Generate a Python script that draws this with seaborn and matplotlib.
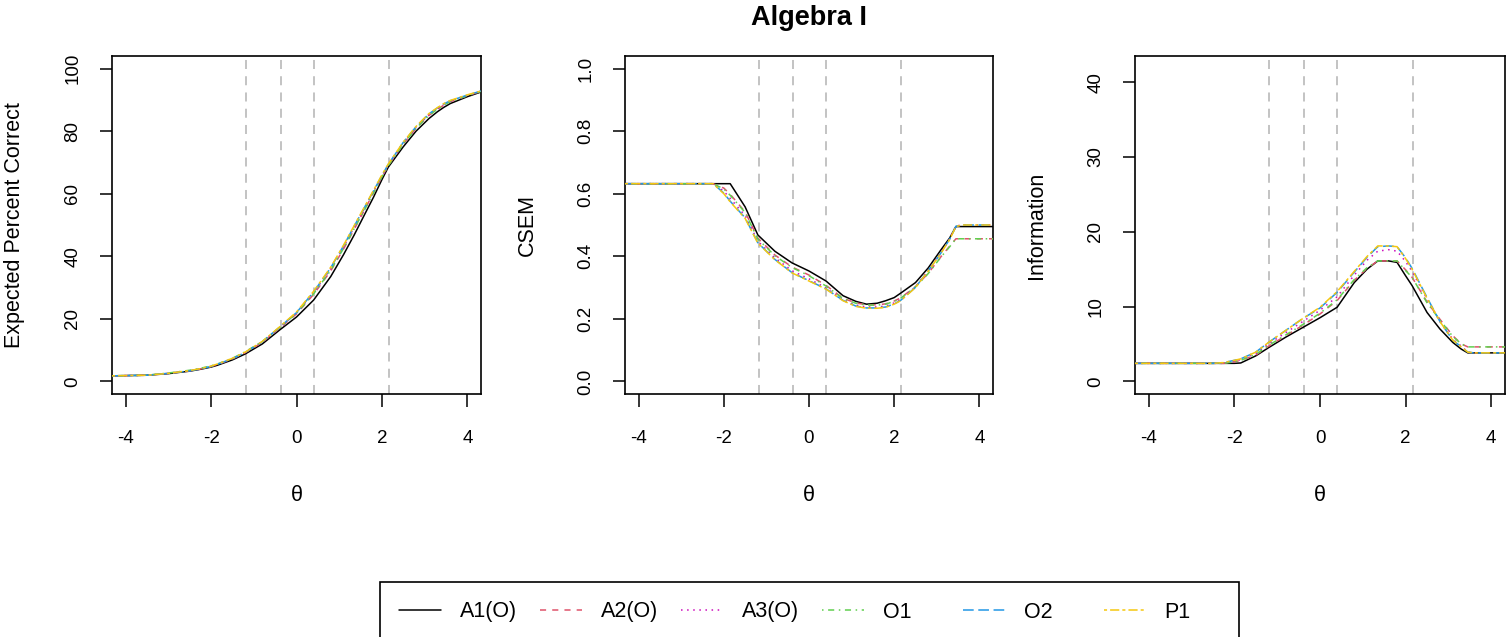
import numpy as np
import matplotlib
matplotlib.use("Agg")
import matplotlib.pyplot as plt
from matplotlib.patches import Rectangle
import seaborn as sns

# theta grid shared by all series
theta = [-4.32, -3.5, -3.0, -2.5, -2.25, -2.0, -1.85, -1.5, -1.2, -0.8, -0.4, 0.0, 0.4,
         0.8, 1.1, 1.35, 1.6, 1.8, 2.0, 2.15, 2.5, 2.8, 3.1, 3.3, 3.45, 3.6, 4.0, 4.32]

series = ["A1(O)", "A2(O)", "A3(O)", "O1", "O2", "P1"]
colors = ["#000000", "#DF536B", "#CD0BBC", "#61D04F", "#2297E6", "#F5C710"]
cut_scores = [-1.18, -0.37, 0.40, 2.16]

# expected percent correct
epc_a1 = [1.8, 2.0, 2.5, 3.3, 3.9, 4.6, 5.2, 6.9, 8.8, 12.0, 16.4, 20.6, 26.0, 33.5, 40.5, 46.8,
          53.5, 58.8, 64.5, 68.5, 75.0, 80.0, 84.0, 86.2, 87.6, 88.8, 91.0, 92.5]
epc_a2 = [1.8, 2.0, 2.6, 3.4, 4.0, 4.8, 5.4, 7.2, 9.2, 12.5, 17.0, 21.6, 27.8, 35.3, 42.3, 48.6,
          55.0, 60.2, 65.4, 69.0, 75.9, 80.9, 85.0, 87.0, 88.3, 89.4, 91.3, 92.7]
epc_a3 = [1.8, 2.0, 2.6, 3.4, 4.0, 4.8, 5.5, 7.3, 9.3, 12.6, 17.2, 21.9, 28.4, 36.0, 43.0, 49.3,
          55.5, 60.6, 65.7, 69.2, 76.2, 81.2, 85.3, 87.2, 88.5, 89.6, 91.4, 92.7]
epc_o1 = [1.8, 2.0, 2.7, 3.6, 4.2, 5.0, 5.6, 7.4, 9.5, 12.8, 17.2, 21.8, 28.0, 35.5, 42.5, 48.8,
          55.0, 60.2, 65.4, 69.0, 75.9, 80.9, 85.0, 87.0, 88.3, 89.4, 91.3, 92.7]
epc_o2 = [1.8, 2.0, 2.6, 3.4, 4.0, 4.8, 5.5, 7.3, 9.3, 12.7, 17.3, 22.0, 28.6, 36.3, 43.3, 49.6,
          55.8, 60.8, 65.8, 69.4, 76.4, 81.4, 85.5, 87.4, 88.7, 89.7, 91.5, 92.8]
epc_p1 = [1.8, 2.0, 2.6, 3.5, 4.1, 4.9, 5.6, 7.4, 9.4, 12.8, 17.4, 22.2, 28.8, 36.5, 43.5, 49.8,
          56.0, 61.0, 66.0, 69.5, 76.5, 81.5, 85.6, 87.5, 88.8, 89.8, 91.6, 92.8]

# conditional standard error of measurement
csem_a1 = [0.632, 0.632, 0.632, 0.632, 0.632, 0.632, 0.632, 0.558, 0.468, 0.416, 0.379, 0.353, 0.321,
           0.274, 0.256, 0.247, 0.250, 0.258, 0.268, 0.282, 0.316, 0.363, 0.421, 0.458, 0.495, 0.495,
           0.495, 0.495]
csem_a2 = [0.632, 0.632, 0.632, 0.632, 0.632, 0.618, 0.598, 0.542, 0.458, 0.404, 0.366, 0.340, 0.307,
           0.266, 0.251, 0.245, 0.245, 0.248, 0.257, 0.267, 0.303, 0.346, 0.399, 0.432, 0.456, 0.456,
           0.456, 0.456]
csem_a3 = [0.632, 0.632, 0.632, 0.632, 0.632, 0.608, 0.585, 0.530, 0.448, 0.395, 0.354, 0.328, 0.299,
           0.261, 0.244, 0.238, 0.238, 0.241, 0.251, 0.262, 0.302, 0.355, 0.412, 0.455, 0.497, 0.500,
           0.500, 0.500]
csem_o1 = [0.632, 0.632, 0.632, 0.632, 0.632, 0.615, 0.595, 0.540, 0.455, 0.402, 0.364, 0.338, 0.305,
           0.265, 0.250, 0.244, 0.244, 0.247, 0.256, 0.266, 0.302, 0.345, 0.398, 0.430, 0.456, 0.456,
           0.456, 0.456]
csem_o2 = [0.632, 0.632, 0.632, 0.632, 0.632, 0.602, 0.576, 0.523, 0.443, 0.390, 0.348, 0.322, 0.296,
           0.259, 0.241, 0.235, 0.235, 0.238, 0.248, 0.259, 0.301, 0.354, 0.411, 0.454, 0.496, 0.500,
           0.500, 0.500]
csem_p1 = [0.632, 0.632, 0.632, 0.632, 0.632, 0.600, 0.574, 0.521, 0.442, 0.389, 0.347, 0.321, 0.295,
           0.258, 0.240, 0.234, 0.234, 0.237, 0.247, 0.258, 0.300, 0.353, 0.410, 0.453, 0.495, 0.500,
           0.500, 0.500]

# test information
info_a1 = [2.4, 2.4, 2.4, 2.4, 2.4, 2.4, 2.45, 3.4, 4.5, 5.9, 7.2, 8.5, 9.9, 13.2, 15.0, 16.1, 16.1,
           15.9, 14.1, 12.8, 9.2, 7.0, 5.2, 4.3, 3.8, 3.8, 3.8, 3.8]
info_a2 = [2.4, 2.4, 2.4, 2.4, 2.4, 2.6, 2.8, 3.5, 4.7, 6.1, 7.5, 9.0, 10.8, 13.5, 15.1, 16.1, 16.1,
           16.1, 14.9, 13.9, 10.6, 8.3, 6.1, 5.0, 4.6, 4.6, 4.6, 4.6]
info_a3 = [2.4, 2.4, 2.4, 2.4, 2.4, 2.7, 2.9, 3.7, 5.0, 6.5, 8.0, 9.5, 11.3, 14.2, 16.2, 17.4, 17.6,
           17.4, 16.0, 14.7, 11.0, 8.0, 5.6, 4.7, 3.9, 3.8, 3.8, 3.8]
info_o1 = [2.4, 2.4, 2.4, 2.4, 2.4, 2.6, 2.8, 3.6, 4.8, 6.2, 7.6, 9.1, 10.9, 13.6, 15.2, 16.1, 16.1,
           16.1, 14.8, 13.9, 10.5, 8.2, 6.0, 5.0, 4.6, 4.6, 4.6, 4.6]
info_o2 = [2.4, 2.4, 2.4, 2.4, 2.5, 2.8, 3.0, 3.9, 5.2, 6.8, 8.4, 9.8, 11.9, 14.6, 16.6, 18.0, 18.1,
           18.0, 16.5, 15.1, 11.2, 8.0, 5.5, 4.6, 3.9, 3.8, 3.8, 3.8]
info_p1 = [2.4, 2.4, 2.4, 2.4, 2.5, 2.8, 3.0, 3.9, 5.2, 6.8, 8.4, 9.9, 12.0, 14.7, 16.7, 18.1, 18.1,
           18.0, 16.4, 15.0, 11.1, 8.0, 5.5, 4.6, 3.9, 3.8, 3.8, 3.8]

epc = [epc_a1, epc_a2, epc_a3, epc_o1, epc_o2, epc_p1]
csem = [csem_a1, csem_a2, csem_a3, csem_o1, csem_o2, csem_p1]
info = [info_a1, info_a2, info_a3, info_o1, info_o2, info_p1]

# R lty 1..6
line_styles = ["-", (0, (4, 4)), (0, (1, 3)), (0, (1, 3, 4, 3)), (0, (7, 3)), (0, (2, 2, 6, 2))]

sns.set_style("white")
plt.rcParams["font.family"] = ["Liberation Sans", "DejaVu Sans"]
plt.rcParams["text.color"] = "black"
plt.rcParams["axes.labelcolor"] = "black"

W, H = 1508, 637
fig = plt.figure(figsize=(W / 100, H / 100), dpi=100)

panels = [
    (112, 481, epc, "Expected Percent Correct", (-4, 104), [0, 20, 40, 60, 80, 100], ["0", "20", "40", "60", "80", "100"]),
    (625, 993, csem, "CSEM", (-0.04, 1.04), [0, 0.2, 0.4, 0.6, 0.8, 1.0], ["0.0", "0.2", "0.4", "0.6", "0.8", "1.0"]),
    (1135, 1505, info, "Information", (-1.7, 43.5), [0, 10, 20, 30, 40], ["0", "10", "20", "30", "40"]),
]
top_px, bot_px = 56, 394

axes = []
for left, right, data, ylab, ylim, yticks, yticklabels in panels:
    ax = fig.add_axes([left / W, 1 - bot_px / H, (right - left) / W, (bot_px - top_px) / H])
    for xv in cut_scores:
        ax.axvline(xv, color="#BEBEBE", lw=1.3, linestyle=(0, (5, 4)), zorder=1)
    for name, vals, col, ls in zip(series, data, colors, line_styles):
        sns.lineplot(x=theta, y=vals, ax=ax, color=col, linestyle=ls, lw=1.1, label=name, zorder=3)
    ax.set_xlim(-4.32, 4.32)
    ax.set_ylim(*ylim)
    ax.set_xticks([-4, -2, 0, 2, 4])
    ax.set_xticklabels(["-4", "-2", "0", "2", "4"])
    ax.set_yticks(yticks)
    ax.set_yticklabels(yticklabels, rotation=90, va="center")
    ax.tick_params(direction="out", length=9, width=1.1, labelsize=13.5, colors="black",
                   left=True, bottom=True)
    ax.tick_params(axis="x", pad=17)
    ax.tick_params(axis="y", pad=13)
    for sp in ax.spines.values():
        sp.set_color("black")
        sp.set_linewidth(1.2)
    ax.set_xlabel("θ", fontsize=15.5)
    ax.set_ylabel(ylab, fontsize=15.5)
    ax.xaxis.set_label_coords(0.5, -0.27)
    ax.yaxis.set_label_coords(-0.237, 0.5)
    ax.get_legend().remove()
    axes.append(ax)

fig.text(809 / W, 1 - 18 / H, "Algebra I", ha="center", va="center", fontsize=19.5, fontweight="bold")

# legend: equal-width columns like base R, one entry per column
handles, labels = axes[0].get_legend_handles_labels()
for i, (h, lab) in enumerate(zip(handles, labels)):
    fig.legend([h], [lab], loc="center left", bbox_to_anchor=((399 + 141 * i) / W, 1 - 612 / H),
               borderaxespad=0, borderpad=0, frameon=False, fontsize=15.5,
               handlelength=1.94, handletextpad=0.88)
fig.patches.append(Rectangle((380 / W, -0.05), 859 / W, (1 - 582 / H) + 0.05,
                             transform=fig.transFigure, fill=False, edgecolor="black", lw=1.2))

fig.savefig("out.png", dpi=100)
